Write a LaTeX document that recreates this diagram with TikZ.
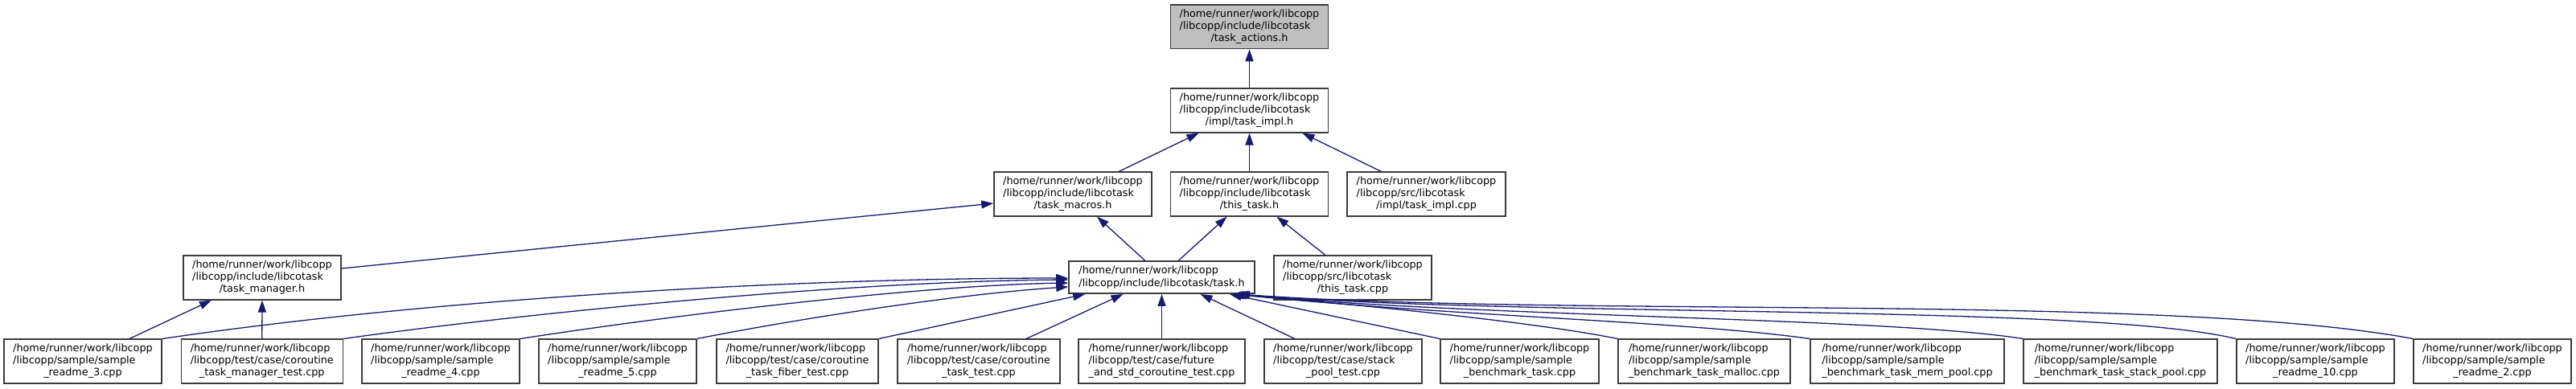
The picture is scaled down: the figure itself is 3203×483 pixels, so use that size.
\documentclass[tikz,border=0pt]{standalone}
\usepackage{fontspec}
\setmainfont{DejaVu Sans}
\usepackage{tikz}
\usetikzlibrary{arrows.meta, calc}
\definecolor{boxline}{RGB}{60,60,60}
\definecolor{deparrow}{RGB}{25,25,112}
\definecolor{curfile}{RGB}{191,191,191}
\newcommand{\fsz}{\fontsize{12.8}{15.2}\selectfont}
% three line label: two left aligned lines, last one centred
\newcommand{\ftxt}[3]{\begin{tabular}{@{}l@{}}#1\\#2\\\multicolumn{1}{@{}c@{}}{#3}\end{tabular}}

\begin{document}
\begin{tikzpicture}[x=1pt, y=-1pt,
  filebox/.style={draw=boxline, line width=1.6pt, fill=white, inner sep=0pt,
    minimum height=54.5pt, minimum width=#1, font=\fsz},
  filebox/.default=196pt,
  dep/.style={draw=deparrow, line width=1.3pt, -{Triangle[length=15pt, width=10pt]}}]
  \useasboundingbox (0,0) rectangle (3203,483);

  % upper rows
  \node[filebox, fill=curfile] (actions) at (1553.5,33.2)
    {\ftxt{/home/runner/work/libcopp}{/libcopp/include/libcotask}{/task\_actions.h}};
  \node[filebox] (impl) at (1553.5,137.5)
    {\ftxt{/home/runner/work/libcopp}{/libcopp/include/libcotask}{/impl/task\_impl.h}};
  \node[filebox] (macros) at (1334,241.5)
    {\ftxt{/home/runner/work/libcopp}{/libcopp/include/libcotask}{/task\_macros.h}};
  \node[filebox] (thistaskh) at (1553.5,241.5)
    {\ftxt{/home/runner/work/libcopp}{/libcopp/include/libcotask}{/this\_task.h}};
  \node[filebox=197pt] (implcpp) at (1773.5,241.5)
    {\ftxt{/home/runner/work/libcopp}{/libcopp/src/libcotask}{/impl/task\_impl.cpp}};
  \node[filebox] (manager) at (326,345.5)
    {\ftxt{/home/runner/work/libcopp}{/libcopp/include/libcotask}{/task\_manager.h}};
  \node[filebox=231pt, minimum height=40.3pt, align=left] (taskh) at (1444.5,345)
    {/home/runner/work/libcopp\\/libcopp/include/libcotask/task.h};
  \node[filebox] (thistaskcpp) at (1682,345.5)
    {\ftxt{/home/runner/work/libcopp}{/libcopp/src/libcotask}{/this\_task.cpp}};

  % bottom row
  \node[filebox] (r3) at (103,449.5)
    {\ftxt{/home/runner/work/libcopp}{/libcopp/sample/sample}{\_readme\_3.cpp}};
  \node[filebox=201pt] (mgrtest) at (325.8,449.5)
    {\ftxt{/home/runner/work/libcopp}{/libcopp/test/case/coroutine}{\_task\_manager\_test.cpp}};
  \node[filebox] (r4) at (548,449.5)
    {\ftxt{/home/runner/work/libcopp}{/libcopp/sample/sample}{\_readme\_4.cpp}};
  \node[filebox] (r5) at (768,449.5)
    {\ftxt{/home/runner/work/libcopp}{/libcopp/sample/sample}{\_readme\_5.cpp}};
  \node[filebox=201pt] (fiber) at (991.5,449.5)
    {\ftxt{/home/runner/work/libcopp}{/libcopp/test/case/coroutine}{\_task\_fiber\_test.cpp}};
  \node[filebox=202pt] (tasktest) at (1217,449.5)
    {\ftxt{/home/runner/work/libcopp}{/libcopp/test/case/coroutine}{\_task\_test.cpp}};
  \node[filebox=207pt] (future) at (1444.5,449.5)
    {\ftxt{/home/runner/work/libcopp}{/libcopp/test/case/future}{\_and\_std\_coroutine\_test.cpp}};
  \node[filebox] (stacktest) at (1670,449.5)
    {\ftxt{/home/runner/work/libcopp}{/libcopp/test/case/stack}{\_pool\_test.cpp}};
  \node[filebox=197pt] (bench) at (1889.5,449.5)
    {\ftxt{/home/runner/work/libcopp}{/libcopp/sample/sample}{\_benchmark\_task.cpp}};
  \node[filebox=214pt] (malloc) at (2119,449.5)
    {\ftxt{/home/runner/work/libcopp}{/libcopp/sample/sample}{\_benchmark\_task\_malloc.cpp}};
  \node[filebox=241pt] (mempool) at (2371.5,449.5)
    {\ftxt{/home/runner/work/libcopp}{/libcopp/sample/sample}{\_benchmark\_task\_mem\_pool.cpp}};
  \node[filebox=241pt] (stackbench) at (2636.5,449.5)
    {\ftxt{/home/runner/work/libcopp}{/libcopp/sample/sample}{\_benchmark\_task\_stack\_pool.cpp}};
  \node[filebox] (r10) at (2879,449.5)
    {\ftxt{/home/runner/work/libcopp}{/libcopp/sample/sample}{\_readme\_10.cpp}};
  \node[filebox] (r2) at (3099,449.5)
    {\ftxt{/home/runner/work/libcopp}{/libcopp/sample/sample}{\_readme\_2.cpp}};

  % includes in the upper rows
  \draw[dep] (impl.north) -- (actions.south);
  \draw[dep] ($(macros.north)+(57,0)$) -- ($(impl.south)+(-63,0)$);
  \draw[dep] (thistaskh.north) -- (impl.south);
  \draw[dep] ($(implcpp.north)+(-56,0)$) -- ($(impl.south)+(66,0)$);
  \draw[dep] ($(manager.east)+(0,-11.5)$) -- ($(macros.west)+(0,11.5)$);
  \draw[dep] ($(taskh.north)+(-21,0)$) -- ($(macros.south)+(30,0)$);
  \draw[dep] ($(taskh.north)+(21,0)$) -- ($(thistaskh.south)+(-28,0)$);
  \draw[dep] ($(thistaskcpp.north)+(-34,0)$) -- ($(thistaskh.south)+(34,0)$);
  \draw[dep] ($(r3.north)+(58,0)$) -- ($(manager.south)+(-63,0)$);
  \draw[dep] (mgrtest.north) -- (manager.south);

  % includes of task.h
  \draw[dep] (r3.north east) .. controls (550,370) and (1000,346) .. ($(taskh.west)+(0,1)$);
  \draw[dep] (mgrtest.north east) .. controls (650,390) and (1050,350) .. ($(taskh.west)+(0,3)$);
  \draw[dep] (r4.north east) .. controls (850,390) and (1150,355) .. ($(taskh.west)+(0,7)$);
  \draw[dep] (r5.north east) .. controls (1000,395) and (1200,365) .. ($(taskh.west)+(0,12)$);
  \draw[dep] (fiber.north east) -- ($(taskh.south west)+(21,0)$);
  \draw[dep] ($(tasktest.north)+(59,0)$) -- ($(taskh.south)+(-48,0)$);
  \draw[dep] (future.north) -- (taskh.south);
  \draw[dep] ($(stacktest.north)+(-60,0)$) -- ($(taskh.south)+(48,0)$);
  \draw[dep] (bench.north west) -- ($(taskh.south east)+(-32,0)$);
  \draw[dep] (malloc.north west) .. controls (1930,405) and (1760,385) .. ($(taskh.south east)+(-30,0)$);
  \draw[dep] (mempool.north west) .. controls (2100,400) and (1800,393) .. ($(taskh.south east)+(-28,0)$);
  \draw[dep] (stackbench.north west) .. controls (2350,395) and (1850,395) .. ($(taskh.south east)+(-26,0)$);
  \draw[dep] (r10.north west) .. controls (2600,378) and (1900,395) .. ($(taskh.south east)+(-24,0)$);
  \draw[dep] (r2.north west) .. controls (2700,365) and (1950,395) .. ($(taskh.south east)+(-22,0)$);
\end{tikzpicture}
\end{document}
